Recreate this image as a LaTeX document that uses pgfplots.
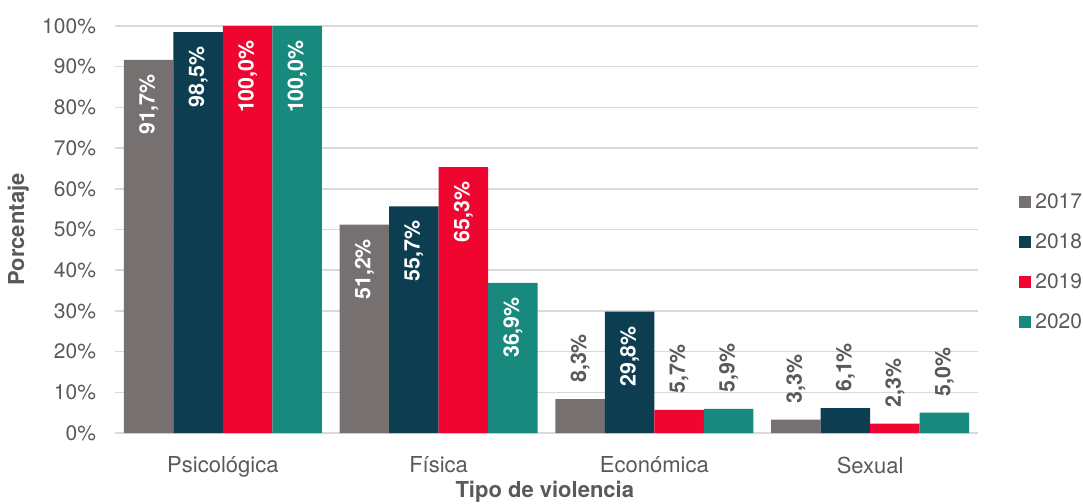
\documentclass[border=0pt]{standalone}
\usepackage{fontspec}
\setmainfont{TeX Gyre Heros}
\usepackage{pgfplots}
\pgfplotsset{compat=1.18}
\definecolor{c17}{RGB}{118,113,112}
\definecolor{c18}{RGB}{12,61,80}
\definecolor{c19}{RGB}{240,5,48}
\definecolor{c20}{RGB}{24,138,125}
\definecolor{txt}{RGB}{89,89,89}
\definecolor{gridc}{RGB}{217,217,217}
% label inside the bar (white) when tall enough, above it (grey) otherwise
\tikzset{lblpos/.code={%
  \pgfmathparse{\rawy<20}%
  \ifnum\pgfmathresult=1
    \pgfkeysalso{anchor=west, text=txt, inner xsep=8pt}%
  \else
    \pgfkeysalso{anchor=east, text=white, inner xsep=7pt}%
  \fi}}
\begin{document}
\begin{tikzpicture}
\begin{axis}[
  name=ax,
  scale only axis,
  width=431.5pt, height=203.5pt,
  ybar=0pt, bar width=24.75pt,
  xmin=-0.5, xmax=3.5,
  ymin=0, ymax=100,
  xtick={0,1,2,3},
  xticklabels={Psicológica,Física,Económica,Sexual},
  ytick={0,10,...,100},
  yticklabel={\pgfmathprintnumber{\tick}\%},
  /pgf/number format/assume math mode=true,
  axis line style={draw=none},
  major tick style={draw=none},
  ymajorgrids, grid style={gridc, line width=0.8pt},
  tick label style={text=txt},
  yticklabel style={font=\fontsize{10.5}{12}\selectfont, xshift=-6pt},
  xticklabel style={font=\fontsize{11}{13}\selectfont, yshift=-4pt},
  xlabel={Tipo de violencia}, ylabel={Porcentaje},
  label style={font=\bfseries\fontsize{11}{13}\selectfont, text=txt},
  xlabel style={at={(axis description cs:0.498,-0.143)}, anchor=center},
  ylabel style={at={(axis description cs:-0.112,0.5)}, anchor=center},
  legend style={at={(1.0405,0.609)}, anchor=north west, draw=none, fill=none,
    font=\fontsize{10.5}{12}\selectfont, text=txt, row sep=7pt},
  legend image code/.code={\fill[#1] (0pt,-3pt) rectangle (6pt,3pt);},
  visualization depends on={rawy \as \rawy},
  nodes near coords={\pgfmathprintnumber[fixed,fixed zerofill,precision=1,use comma]{\pgfplotspointmeta}\%},
  every node near coord/.append style={rotate=90, font=\bfseries\fontsize{10.7}{12}\selectfont,
    lblpos},
]
\addplot[fill=c17, draw=none] coordinates {(0,91.7) (1,51.2) (2,8.3) (3,3.3)};
\addplot[fill=c18, draw=none] coordinates {(0,98.5) (1,55.7) (2,29.8) (3,6.1)};
\addplot[fill=c19, draw=none] coordinates {(0,100) (1,65.3) (2,5.7) (3,2.3)};
\addplot[fill=c20, draw=none] coordinates {(0,100) (1,36.9) (2,5.9) (3,5.0)};
\legend{2017,2018,2019,2020}
\end{axis}
\pgfresetboundingbox
\path[use as bounding box] ([xshift=-57.5pt,yshift=-35pt]ax.south west) rectangle ([xshift=52.5pt,yshift=13pt]ax.north east);
\end{tikzpicture}
\end{document}
